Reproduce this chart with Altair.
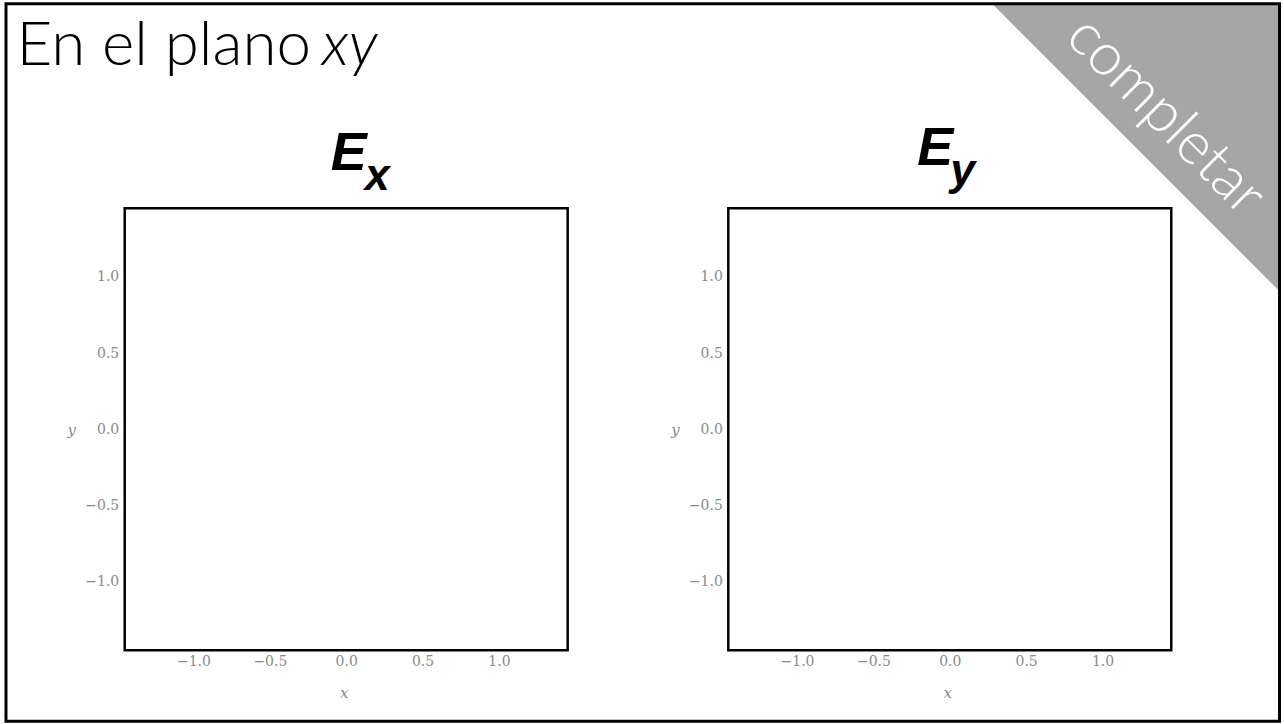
import altair as alt
import pandas as pd

# --- content -------------------------------------------------------------
tick_values = [-1.0, -0.5, 0.0, 0.5, 1.0]
axis_domain = [-1.45, 1.45]
panel_main = ["E", "E"]
panel_sub = ["x", "y"]
slide_title = "En el plano"
slide_title_var = "xy"
corner_label = "completar"

# --- layout constants (canvas pixels) ------------------------------------
CANVAS_W, CANVAS_H = 1284, 724
W, H = 444, 443
P1 = (123.5, 206.5)   # top-left of the first panel
P2 = (728.5, 206.5)   # top-left of the second panel
GAP = P2[0] - P1[0] - W

GRAY = "#8a8a8a"
SERIF = "DejaVu Serif"
SANS = "Lato"
HEAVY = "Liberation Sans"

ticks_df = pd.DataFrame({"x": tick_values, "y": tick_values})
one_row = alt.InlineData(values=[{"k": 0}])


def at(origin, cx, cy):
    """Canvas position -> position relative to a panel origin."""
    return cx - origin[0], cy - origin[1]


def frame():
    common = dict(
        values=tick_values, format=".1f", domain=False, ticks=False, tickSize=0,
        grid=False, labelFont=SERIF, labelFontSize=14, labelColor=GRAY,
        labelFlush=False, titleFont=SERIF, titleFontSize=15, titleFontStyle="italic",
        titleFontWeight="normal", titleColor=GRAY, titleAngle=0,
        titleAlign="center", titleBaseline="middle",
    )
    return alt.Chart(ticks_df).mark_point(opacity=0).encode(
        x=alt.X("x:Q", scale=alt.Scale(domain=axis_domain, nice=False, zero=False),
                axis=alt.Axis(title="x", labelPadding=4, titleX=219.5, titleY=42.5, **common)),
        y=alt.Y("y:Q", scale=alt.Scale(domain=axis_domain, nice=False, zero=False),
                axis=alt.Axis(title="y", labelPadding=6, titleX=-53.5, titleY=221.5, **common)),
    ).properties(width=W, height=H)


def text_at(origin, cx, cy, label, **style):
    x, y = at(origin, cx, cy)
    return alt.Chart(one_row).mark_text(text=label, clip=False, **style).encode(
        x=alt.value(x), y=alt.value(y))


def panel_heading(origin, ex, ey, sx, sy, main, sub):
    style = dict(font=HEAVY, fontWeight="bold", fontStyle="italic", color="black",
                 align="left", baseline="alphabetic")
    return (text_at(origin, ex, ey, main, fontSize=54, **style)
            + text_at(origin, sx, sy, sub, fontSize=45, **style))


def canvas_rect(x0, y0, x1, y1, **style):
    ax0, ay0 = at(P1, x0, y0)
    ax1, ay1 = at(P1, x1, y1)
    return alt.Chart(one_row).mark_rect(clip=False, **style).encode(
        x=alt.value(ax0), x2=alt.value(ax1), y=alt.value(ay0), y2=alt.value(ay1))


# slide decoration, drawn from the first panel's layer;
# an unpainted rect spans the whole sheet so the canvas starts at its corner
sheet = canvas_rect(0, 0, CANVAS_W, CANVAS_H, color="white", fillOpacity=0, strokeWidth=0)
border = canvas_rect(4.5, 1.5, 1281, 720.5, fillOpacity=0, stroke="black", strokeWidth=3)

side = 288
tx, ty = at(P1, 1281 - side / 2, 1.5 + side / 2)
corner = alt.Chart(one_row).mark_point(
    shape="M-1,-1L1,-1L1,1Z", filled=True, color="#a6a6a6", opacity=1,
    size=side * side, strokeWidth=0, clip=False
).encode(x=alt.value(tx), y=alt.value(ty))

corner_text = text_at(P1, 1167, 114, corner_label, font=SANS, fontWeight=300,
                      fontSize=59, color="white", angle=45,
                      align="center", baseline="middle")

title_a = text_at(P1, 15, 63, slide_title, font=SANS, fontWeight=300, fontSize=62,
                  color="black", align="left", baseline="alphabetic")
title_b = text_at(P1, 321, 63, slide_title_var, font=SANS, fontWeight=300,
                  fontStyle="italic", fontSize=62, color="black",
                  align="left", baseline="alphabetic")

left = alt.layer(
    sheet, corner, corner_text, title_a, title_b, border,
    frame(),
    panel_heading(P1, 330, 168, 364, 188, panel_main[0], panel_sub[0]),
)
right = alt.layer(
    frame(),
    panel_heading(P2, 918, 163, 951, 183, panel_main[1], panel_sub[1]),
)

chart = alt.hconcat(left, right, spacing=GAP, bounds="flush").properties(
    padding=0,
    background="white",
).configure_view(stroke="black", strokeWidth=2.5)

chart.save("out.html", embed_options={"renderer": "svg", "actions": False})
